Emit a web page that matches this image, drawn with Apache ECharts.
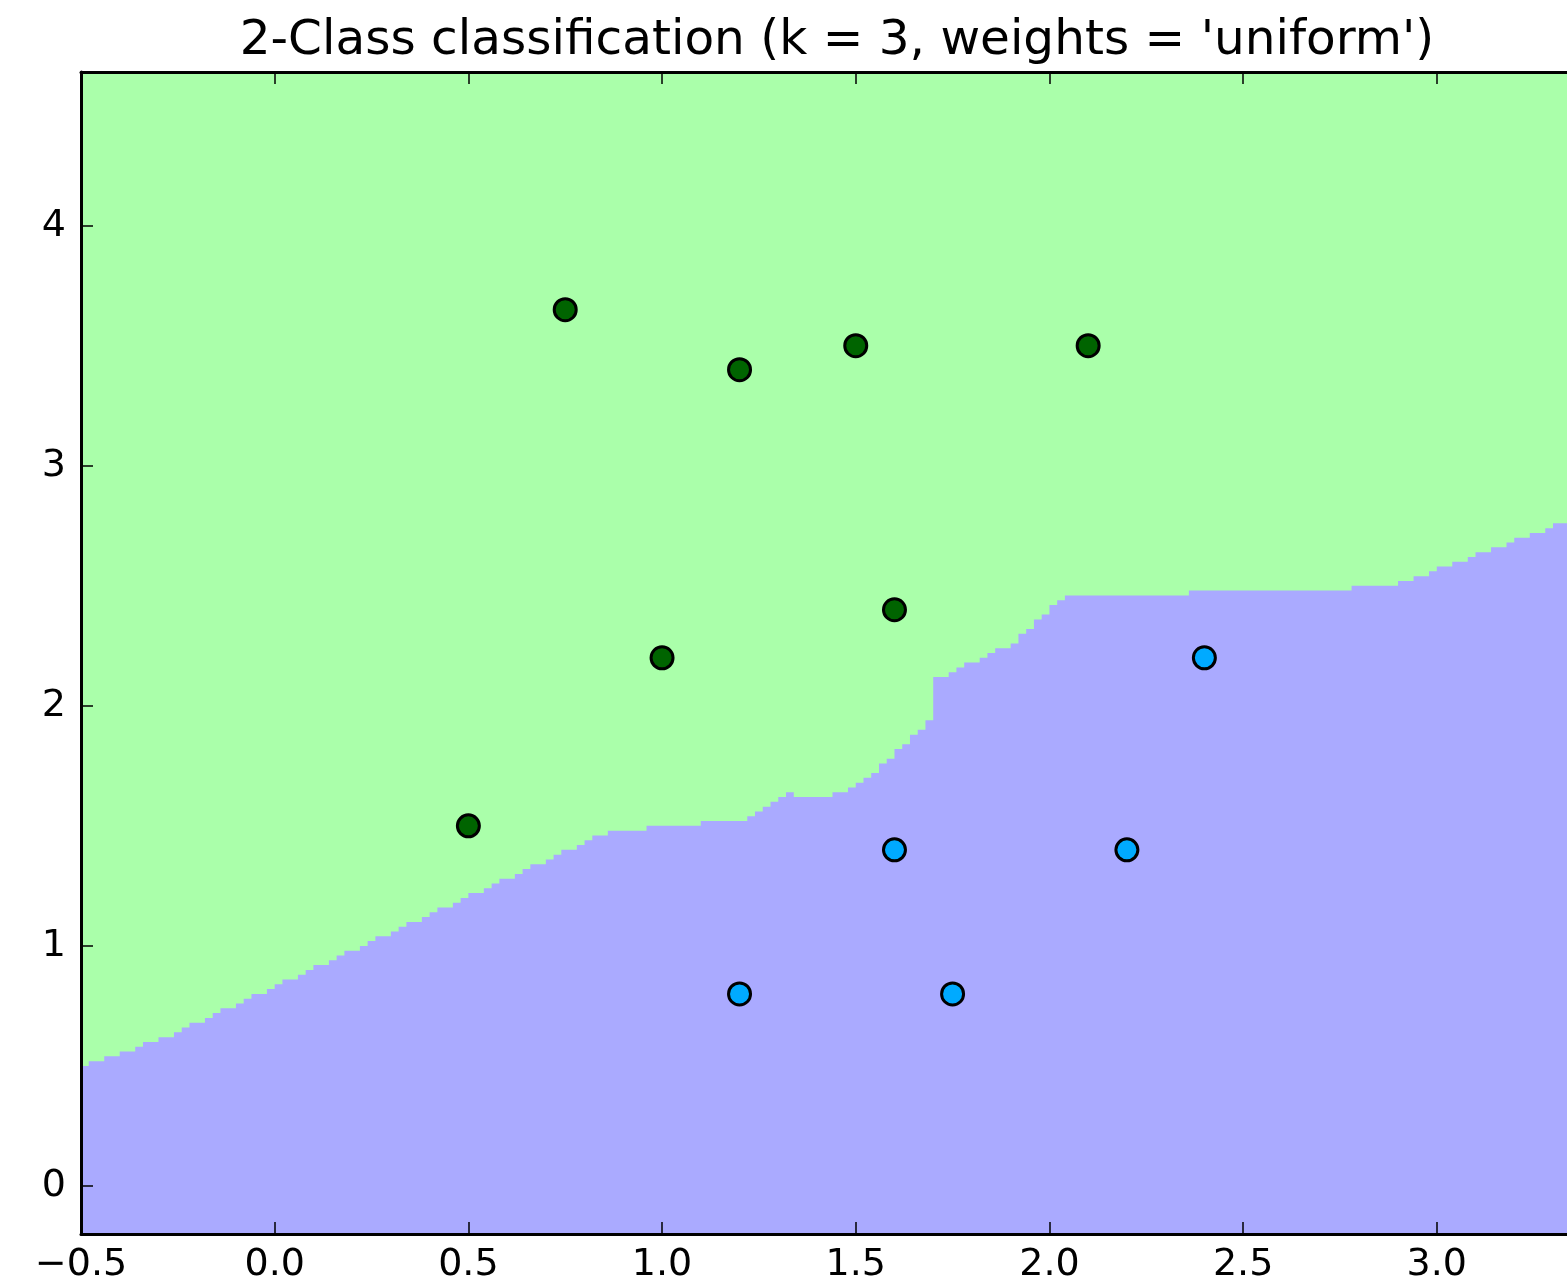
<!DOCTYPE html>
<html>
<head>
<meta charset="utf-8">
<script src="https://cdn.jsdelivr.net/npm/echarts@6/dist/echarts.min.js"></script>
<style>
html,body{margin:0;padding:0;background:#fff;}
#chart{width:1567px;height:1287px;}
</style>
</head>
<body>
<div id="chart"></div>
<script>
// ---- data ----
const titleText = "2-Class classification (k = 3, weights = 'uniform')";

const class0X = [0.75, 1.2, 1.5, 2.1, 1.6, 1.0, 0.5];
const class0Y = [3.65, 3.4, 3.5, 3.5, 2.4, 2.2, 1.5];
const class1X = [2.4, 1.6, 2.2, 1.2, 1.75];
const class1Y = [2.2, 1.4, 1.4, 0.8, 0.8];

// decision boundary: left x of each step and the boundary level from there on
const boundaryX = [-0.50,-0.48,-0.44,-0.40,-0.36,-0.34,-0.30,-0.26,-0.24,-0.22,-0.18,-0.16,-0.14,-0.10,-0.08,-0.06,-0.02,0.00,0.02,0.06,0.08,0.10,0.14,0.16,0.18,0.22,0.24,0.26,0.30,0.32,0.34,0.38,0.40,0.42,0.46,0.48,0.50,0.54,0.56,0.58,0.62,0.64,0.66,0.70,0.72,0.74,0.78,0.80,0.82,0.86,0.96,1.10,1.22,1.24,1.26,1.28,1.30,1.32,1.34,1.44,1.48,1.50,1.52,1.54,1.56,1.58,1.60,1.62,1.64,1.66,1.68,1.70,1.74,1.76,1.78,1.82,1.84,1.86,1.90,1.92,1.94,1.96,1.98,2.00,2.02,2.04,2.36,2.78,2.90,2.94,2.98,3.00,3.04,3.08,3.10,3.14,3.18,3.20,3.24,3.28,3.30,3.38];
const boundaryY = [0.50,0.52,0.54,0.56,0.58,0.60,0.62,0.64,0.66,0.68,0.70,0.72,0.74,0.76,0.78,0.80,0.82,0.84,0.86,0.88,0.90,0.92,0.94,0.96,0.98,1.00,1.02,1.04,1.06,1.08,1.10,1.12,1.14,1.16,1.18,1.20,1.22,1.24,1.26,1.28,1.30,1.32,1.34,1.36,1.38,1.40,1.42,1.44,1.46,1.48,1.50,1.52,1.54,1.56,1.58,1.60,1.62,1.64,1.62,1.64,1.66,1.68,1.70,1.72,1.76,1.78,1.82,1.84,1.88,1.90,1.94,2.12,2.14,2.16,2.18,2.20,2.22,2.24,2.26,2.30,2.32,2.36,2.38,2.42,2.44,2.46,2.48,2.50,2.52,2.54,2.56,2.58,2.60,2.62,2.64,2.66,2.68,2.70,2.72,2.74,2.76,2.76];

const xTicks = [-0.5, 0.0, 0.5, 1.0, 1.5, 2.0, 2.5, 3.0];
const yTicks = [0, 1, 2, 3, 4];
const xRange = [-0.5, 3.38];
const yRange = [-0.2, 4.64];

// ---- chart ----
const FONT = 'DejaVu Sans';
const zip = (a, b) => a.map((v, i) => [v, b[i]]);
const fmtX = v => v.toFixed(1).replace('-', '\u2212');
const fmtY = v => String(Math.round(v)).replace('-', '\u2212');

const chart = echarts.init(document.getElementById('chart'), null, {renderer: 'canvas'});

const tickStyle = {show: true, inside: true, length: 12, lineStyle: {color: '#000', width: 1.5}};

chart.setOption({
  animation: false,
  backgroundColor: '#ffffff',
  title: {
    text: titleText,
    left: 832,
    textAlign: 'center',
    top: 12,
    textStyle: {fontFamily: FONT, fontSize: 48.5, fontWeight: 'normal', color: '#000'}
  },
  grid: {
    left: 81, top: 72, right: -17, bottom: 53,
    show: true, backgroundColor: '#AAFFAA', borderWidth: 0,
    outerBoundsMode: 'none', containLabel: false
  },
  xAxis: [{
    type: 'value', min: xRange[0], max: xRange[1], position: 'bottom', z: 5,
    axisLine: {show: true, onZero: false, lineStyle: {color: '#000', width: 3}},
    axisTick: Object.assign({customValues: xTicks}, tickStyle),
    axisLabel: {customValues: xTicks, formatter: fmtX, margin: 12, color: '#000', fontFamily: FONT, fontSize: 38},
    splitLine: {show: false}
  }, {
    type: 'value', min: xRange[0], max: xRange[1], position: 'top', z: 5,
    axisLine: {show: true, onZero: false, lineStyle: {color: '#000', width: 3}},
    axisTick: Object.assign({customValues: xTicks}, tickStyle),
    axisLabel: {show: false},
    splitLine: {show: false}
  }],
  yAxis: [{
    type: 'value', min: yRange[0], max: yRange[1], position: 'left', z: 5,
    axisLine: {show: true, onZero: false, lineStyle: {color: '#000', width: 3}},
    axisTick: Object.assign({customValues: yTicks}, tickStyle),
    axisLabel: {customValues: yTicks, formatter: fmtY, margin: 15, color: '#000', fontFamily: FONT, fontSize: 38},
    splitLine: {show: false}
  }],
  series: [{
    type: 'line',
    xAxisIndex: 0, yAxisIndex: 0,
    data: zip(boundaryX, boundaryY),
    step: 'end',
    symbol: 'none',
    lineStyle: {width: 0, opacity: 0},
    areaStyle: {color: '#AAAAFF', opacity: 1, origin: 'start'},
    z: 2,
    silent: true
  }, {
    type: 'scatter',
    data: zip(class0X, class0Y),
    symbol: 'circle', symbolSize: 22,
    itemStyle: {color: '#006400', borderColor: '#000', borderWidth: 3, opacity: 1},
    z: 10
  }, {
    type: 'scatter',
    data: zip(class1X, class1Y),
    symbol: 'circle', symbolSize: 22,
    itemStyle: {color: '#00AAFF', borderColor: '#000', borderWidth: 3, opacity: 1},
    z: 10
  }]
});
</script>
</body>
</html>
